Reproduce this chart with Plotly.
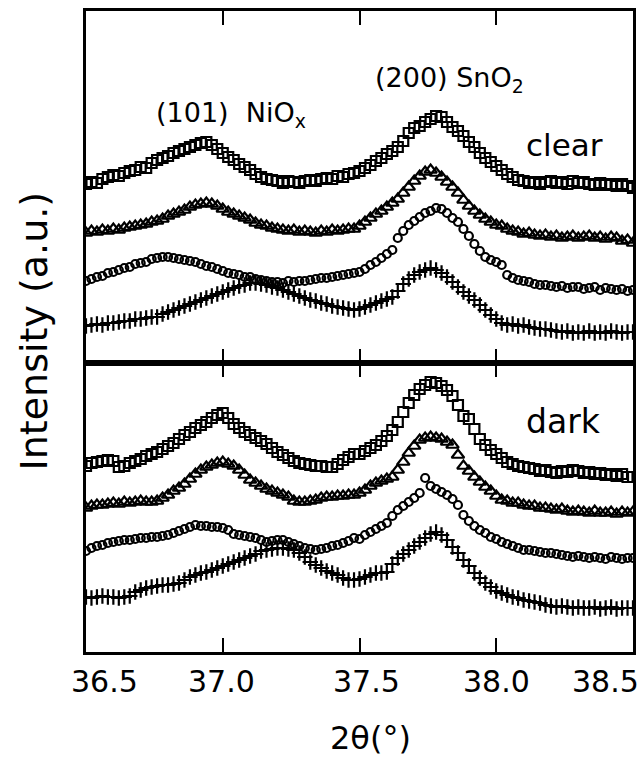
import plotly.graph_objects as go

# ---------------- data ----------------
two_theta = [
    36.50, 36.52, 36.54, 36.56, 36.58, 36.60, 36.62, 36.64, 36.66, 36.68,
    36.70, 36.72, 36.74, 36.76, 36.78, 36.80, 36.82, 36.84, 36.86, 36.88,
    36.90, 36.92, 36.94, 36.96, 36.98, 37.00, 37.02, 37.04, 37.06, 37.08,
    37.10, 37.12, 37.14, 37.16, 37.18, 37.20, 37.22, 37.24, 37.26, 37.28,
    37.30, 37.32, 37.34, 37.36, 37.38, 37.40, 37.42, 37.44, 37.46, 37.48,
    37.50, 37.52, 37.54, 37.56, 37.58, 37.60, 37.62, 37.64, 37.66, 37.68,
    37.70, 37.72, 37.74, 37.76, 37.78, 37.80, 37.82, 37.84, 37.86, 37.88,
    37.90, 37.92, 37.94, 37.96, 37.98, 38.00, 38.02, 38.04, 38.06, 38.08,
    38.10, 38.12, 38.14, 38.16, 38.18, 38.20, 38.22, 38.24, 38.26, 38.28,
    38.30, 38.32, 38.34, 38.36, 38.38, 38.40, 38.42, 38.44, 38.46, 38.48,
    38.50,
]

# "clear" panel (intensity, a.u., offset curves)
clear_squares = [
    179, 181, 180, 184, 186, 188, 187, 190, 192, 193,
    196, 195, 200, 203, 205, 207, 210, 212, 214, 216,
    218, 220, 221, 218, 214, 210, 206, 203, 199, 196,
    193, 189, 186, 184, 183, 182, 180, 182, 181, 180,
    182, 183, 182, 184, 185, 184, 187, 186, 189, 190,
    192, 195, 198, 202, 205, 209, 212, 216, 222, 230,
    235, 237, 241, 244, 247, 246, 241, 236, 232, 227,
    221, 216, 210, 205, 201, 197, 193, 189, 186, 183,
    182, 180, 181, 179, 181, 182, 180, 181, 179, 182,
    180, 181, 179, 178, 180, 178, 179, 177, 179, 177,
    175,
]
clear_triangles = [
    130, 132, 131, 133, 132, 134, 133, 135, 136, 137,
    138, 139, 141, 142, 144, 147, 149, 151, 153, 156,
    158, 159, 160, 159, 157, 154, 151, 149, 147, 145,
    143, 140, 138, 137, 135, 134, 133, 132, 133, 131,
    132, 131, 130, 132, 131, 133, 132, 133, 134, 134,
    137, 141, 145, 149, 152, 156, 160, 164, 170, 176,
    182, 187, 191, 193, 190, 186, 181, 176, 170, 163,
    157, 152, 148, 144, 141, 138, 137, 134, 132, 131,
    129, 130, 128, 127, 128, 126, 127, 125, 126, 127,
    125, 126, 127, 125, 126, 124, 126, 125, 122, 123,
    120,
]
clear_circles = [
    82, 84, 86, 87, 90, 91, 93, 95, 96, 99,
    100, 101, 104, 105, 106, 106, 105, 104, 103, 102,
    101, 99, 97, 96, 94, 92, 90, 89, 88, 86,
    86, 84, 83, 82, 81, 81, 80, 82, 81, 82,
    82, 83, 84, 85, 85, 86, 87, 88, 89, 90,
    91, 94, 98, 101, 105, 109, 113, 125, 132, 138,
    142, 146, 150, 152, 155, 154, 150, 145, 141, 134,
    127, 119, 112, 106, 103, 101, 98, 88, 85, 83,
    82, 81, 79, 78, 78, 77, 76, 77, 75, 76,
    76, 74, 75, 76, 73, 75, 74, 73, 74, 72,
    73,
]
clear_crosses = [
    37, 38, 39, 38, 40, 40, 41, 42, 42, 44,
    44, 45, 46, 46, 49, 51, 53, 55, 57, 59,
    61, 63, 65, 67, 69, 71, 73, 75, 77, 78,
    80, 80, 79, 78, 76, 75, 73, 71, 69, 67,
    65, 63, 62, 60, 59, 57, 56, 55, 54, 53,
    54, 56, 58, 60, 62, 64, 66, 72, 79, 84,
    88, 91, 93, 95, 93, 90, 86, 81, 76, 71,
    67, 63, 58, 53, 48, 44, 40, 38, 39, 37,
    38, 36, 35, 34, 34, 33, 32, 31, 32, 30,
    31, 30, 32, 30, 31, 30, 32, 31, 30, 31,
    31,
]

# "dark" panel
dark_squares = [
    186, 189, 190, 191, 192, 191, 185, 186, 189, 191,
    193, 196, 198, 200, 203, 206, 209, 213, 217, 220,
    224, 227, 230, 234, 237, 239, 234, 228, 224, 220,
    217, 214, 211, 208, 204, 200, 197, 194, 191, 189,
    188, 187, 186, 186, 185, 185, 188, 192, 195, 198,
    198, 201, 204, 207, 211, 216, 222, 230, 240, 249,
    257, 263, 267, 270, 269, 266, 262, 256, 247, 236,
    233, 223, 213, 207, 202, 198, 194, 190, 188, 186,
    185, 184, 183, 181, 182, 180, 179, 181, 180, 182,
    181, 179, 180, 178, 179, 177, 178, 176, 178, 175,
    175,
]
dark_triangles = [
    144, 146, 147, 147, 148, 149, 148, 150, 149, 150,
    151, 150, 150, 151, 154, 157, 161, 164, 168, 173,
    178, 182, 185, 187, 189, 190, 188, 186, 182, 177,
    172, 169, 166, 163, 161, 159, 157, 155, 151, 150,
    150, 151, 152, 154, 155, 155, 156, 156, 157, 157,
    159, 162, 166, 169, 171, 173, 175, 182, 190, 199,
    206, 212, 214, 215, 214, 213, 210, 207, 197, 186,
    181, 175, 170, 165, 161, 156, 152, 151, 149, 149,
    147, 146, 146, 144, 144, 143, 142, 143, 141, 140,
    141, 140, 139, 141, 139, 139, 140, 138, 140, 139,
    140,
]
dark_circles = [
    101, 104, 106, 107, 109, 110, 111, 112, 112, 113,
    114, 114, 115, 115, 116, 117, 119, 121, 123, 125,
    127, 126, 126, 125, 125, 124, 122, 118, 117, 116,
    115, 114, 112, 110, 111, 112, 112, 110, 108, 106,
    104, 103, 102, 103, 104, 106, 107, 109, 111, 114,
    113, 117, 120, 123, 126, 129, 136, 142, 146, 150,
    154, 159, 174, 166, 163, 160, 157, 153, 147, 137,
    131, 126, 122, 119, 115, 113, 110, 108, 106, 104,
    102, 102, 101, 100, 99, 99, 98, 97, 96, 95,
    96, 95, 94, 95, 94, 93, 95, 94, 93, 94,
    94,
]
dark_crosses = [
    55, 54, 55, 56, 55, 55, 54, 55, 56, 60,
    62, 64, 65, 66, 67, 67, 68, 69, 72, 75,
    77, 79, 80, 82, 84, 86, 88, 90, 92, 94,
    96, 98, 101, 102, 103, 104, 104, 103, 102, 99,
    95, 90, 87, 84, 81, 79, 77, 74, 72, 72,
    73, 75, 77, 79, 79, 80, 88, 94, 98, 102,
    106, 110, 114, 118, 120, 117, 112, 105, 99, 92,
    86, 79, 74, 69, 65, 61, 59, 57, 55, 54,
    52, 51, 50, 49, 47, 46, 45, 46, 45, 44,
    45, 44, 44, 45, 43, 44, 45, 43, 44, 44,
    44,
]

tick_values = [36.5, 37.0, 37.5, 38.0, 38.5]
tick_labels = ["36.5", "37.0", "37.5", "38.0", "38.5"]

# ---------------- figure ----------------
fig = go.Figure()

marker_styles = [
    ("square-open", 10),
    ("triangle-up-open", 11),
    ("circle-open", 8),
    ("cross-thin-open", 11),
]

panels = [
    ("x", "y", [clear_squares, clear_triangles, clear_circles, clear_crosses]),
    ("x2", "y2", [dark_squares, dark_triangles, dark_circles, dark_crosses]),
]
for xa, ya, curves in panels:
    for yvals, (sym, sz) in zip(curves, marker_styles):
        fig.add_trace(go.Scatter(
            x=two_theta, y=yvals, mode="markers", xaxis=xa, yaxis=ya,
            showlegend=False, hoverinfo="skip",
            marker=dict(symbol=sym, size=sz, color="black",
                        line=dict(color="black", width=2.2)),
        ))

H_PLOT = 641.0
split = 289.0 / H_PLOT

xaxis_common = dict(
    range=[36.5, 38.5], tickvals=[37.0, 37.5, 38.0], ticks="inside",
    ticklen=14, tickwidth=2, tickcolor="black", showticklabels=False,
    showline=True, linecolor="black", linewidth=2.5, mirror="ticks",
    showgrid=False, zeroline=False,
)
yaxis_common = dict(
    showticklabels=False, ticks="", showline=True, linecolor="black",
    linewidth=2.5, mirror=True, showgrid=False, zeroline=False,
)

fig.update_layout(
    width=644, height=759, autosize=False,
    margin=dict(l=86, r=8, t=11, b=107),
    paper_bgcolor="white", plot_bgcolor="white",
    font=dict(family="DejaVu Sans", color="black"),
    xaxis=dict(domain=[0, 1], anchor="y", **xaxis_common),
    yaxis=dict(domain=[split, 1], range=[0, 352], anchor="x", **yaxis_common),
    xaxis2=dict(domain=[0, 1], anchor="y2", matches="x", **xaxis_common),
    yaxis2=dict(domain=[0, split], range=[0, 289], anchor="x2", **yaxis_common),
)

annotations = []
label_shift = {"36.5": 18, "37.0": -1, "37.5": 7, "38.0": 0, "38.5": -28}
for v, t in zip(tick_values, tick_labels):
    annotations.append(dict(
        x=v, xref="x2", y=0, yref="paper", yanchor="middle", xanchor="center",
        yshift=-29, xshift=label_shift[t], text=t, showarrow=False,
        font=dict(size=30, family="DejaVu Sans", color="black"),
    ))

annotations += [
    dict(x=0.52, xref="paper", y=0, yref="paper", xanchor="center",
         yanchor="middle", yshift=-86, text="2θ(°)", showarrow=False,
         font=dict(size=32, family="DejaVu Sans", color="black")),
    dict(x=0, xref="paper", y=0.5, yref="paper", xanchor="center",
         yanchor="middle", xshift=-53, text="Intensity (a.u.)", textangle=-90,
         showarrow=False,
         font=dict(size=38, family="DejaVu Sans", color="black")),
    dict(x=36.75, xref="x", y=249, yref="y", xanchor="left", yanchor="middle",
         text="(101)\u00a0 NiO<sub>x</sub>", showarrow=False,
         font=dict(size=27, family="DejaVu Sans", color="black")),
    dict(x=37.55, xref="x", y=284, yref="y", xanchor="left", yanchor="middle",
         text="(200) SnO<sub>2</sub>", showarrow=False,
         font=dict(size=27, family="DejaVu Sans", color="black")),
    dict(x=38.1, xref="x", y=218, yref="y", xanchor="left", yanchor="middle",
         text="clear", showarrow=False,
         font=dict(size=31, family="DejaVu Sans", color="black")),
    dict(x=38.1, xref="x2", y=231, yref="y2", xanchor="left", yanchor="middle",
         text="dark", showarrow=False,
         font=dict(size=33, family="DejaVu Sans", color="black")),
]
fig.update_layout(annotations=annotations)

fig.write_html(
    "out.html",
    config={"displayModeBar": False},
    post_script="document.body.style.margin='0';document.body.style.padding='0';",
)
